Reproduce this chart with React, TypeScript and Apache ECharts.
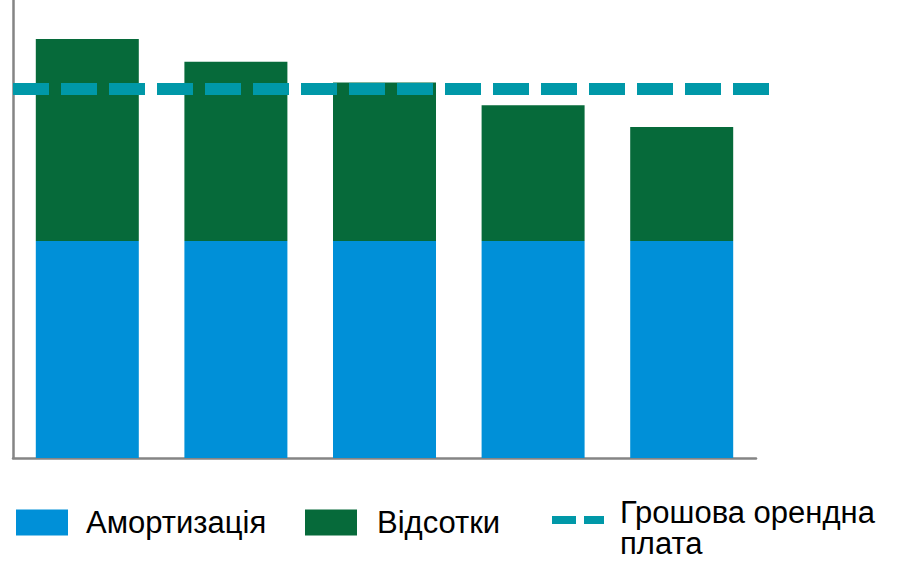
import React, { useEffect, useRef } from "react";
import * as echarts from "echarts";

const categories = ["1", "2", "3", "4", "5"];
const amortization = [100, 100, 100, 100, 100];
const interest = [93, 82.5, 73, 62.5, 52.5];
const cashRent = 170;
const yMax = 211;

const NAME_A = "Амортизація";
const NAME_B = "Відсотки";
const NAME_C = "Грошова орендна плата";

const BLUE = "#0090d8";
const GREEN = "#066a3a";
const TEAL = "#0098a8";
const AXIS = "#858585";

export default function App() {
  const ref = useRef<HTMLDivElement>(null);
  useEffect(() => {
    if (!ref.current) return;
    const chart = echarts.init(ref.current, undefined, { renderer: "svg" });
    const font = {
      color: "#000",
      fontFamily: "Liberation Sans, Arial, sans-serif",
      fontSize: 31,
    };
    const textBase = { ...font, lineHeight: 31 };
    chart.setOption({
      animation: false,
      grid: [
        { left: 13, right: 141, top: 0, bottom: 106 },
        { left: 13, right: 127, top: 0, bottom: 106 },
      ],
      xAxis: [
        {
          type: "category",
          gridIndex: 0,
          data: categories,
          axisLine: { show: true, lineStyle: { color: AXIS, width: 2.5 } },
          axisTick: { show: false },
          axisLabel: { show: false },
        },
        { type: "value", gridIndex: 1, min: 0, max: 1, show: false },
      ],
      yAxis: [
        {
          type: "value",
          gridIndex: 0,
          min: 0,
          max: yMax,
          axisLine: { show: true, lineStyle: { color: AXIS, width: 2.5 } },
          axisTick: { show: false },
          axisLabel: { show: false },
          splitLine: { show: false },
        },
        { type: "value", gridIndex: 1, min: 0, max: yMax, show: false },
      ],
      legend: [
        {
          data: [NAME_A],
          icon: "rect",
          left: 16,
          top: 507,
          padding: 0,
          itemWidth: 52,
          itemHeight: 26,
          textStyle: { ...textBase, padding: [0, 0, 0, 13] },
        },
        {
          data: [NAME_B],
          icon: "rect",
          left: 305,
          top: 507,
          padding: 0,
          itemWidth: 52,
          itemHeight: 26,
          textStyle: { ...textBase, padding: [0, 0, 0, 15] },
        },
        {
          data: [NAME_C],
          left: 548,
          top: 481,
          padding: 0,
          itemWidth: 52,
          itemHeight: 26,
          itemStyle: { color: "transparent", borderWidth: 0, opacity: 0 },
          lineStyle: { width: 8, type: [24, 8], color: TEAL, opacity: 1 },
          formatter: (n: string) => {
            const parts = n.split(" ");
            const last = parts.pop();
            return "{s| }\n{b|" + parts.join(" ") + "}\n{b|" + last + "}";
          },
          textStyle: {
            ...textBase,
            padding: [0, 0, 0, 11],
            rich: {
              s: { ...font, fontSize: 10, lineHeight: 16 },
              b: { ...font, lineHeight: 31 },
            },
          },
        },
      ],
      series: [
        {
          name: NAME_A,
          type: "bar",
          stack: "s",
          barWidth: 103,
          data: amortization,
          itemStyle: { color: BLUE },
        },
        {
          name: NAME_B,
          type: "bar",
          stack: "s",
          barWidth: 103,
          data: interest,
          itemStyle: { color: GREEN },
        },
        {
          name: NAME_C,
          type: "line",
          xAxisIndex: 1,
          yAxisIndex: 1,
          symbol: "none",
          data: [
            [0, cashRent],
            [1, cashRent],
          ],
          lineStyle: { color: TEAL, width: 12, type: [36, 12] },
          itemStyle: { color: TEAL },
          z: 5,
        },
      ],
    });
    return () => chart.dispose();
  }, []);
  return <div ref={ref} style={{ width: 897, height: 564, position: "absolute", left: 0, top: 0 }} />;
}
